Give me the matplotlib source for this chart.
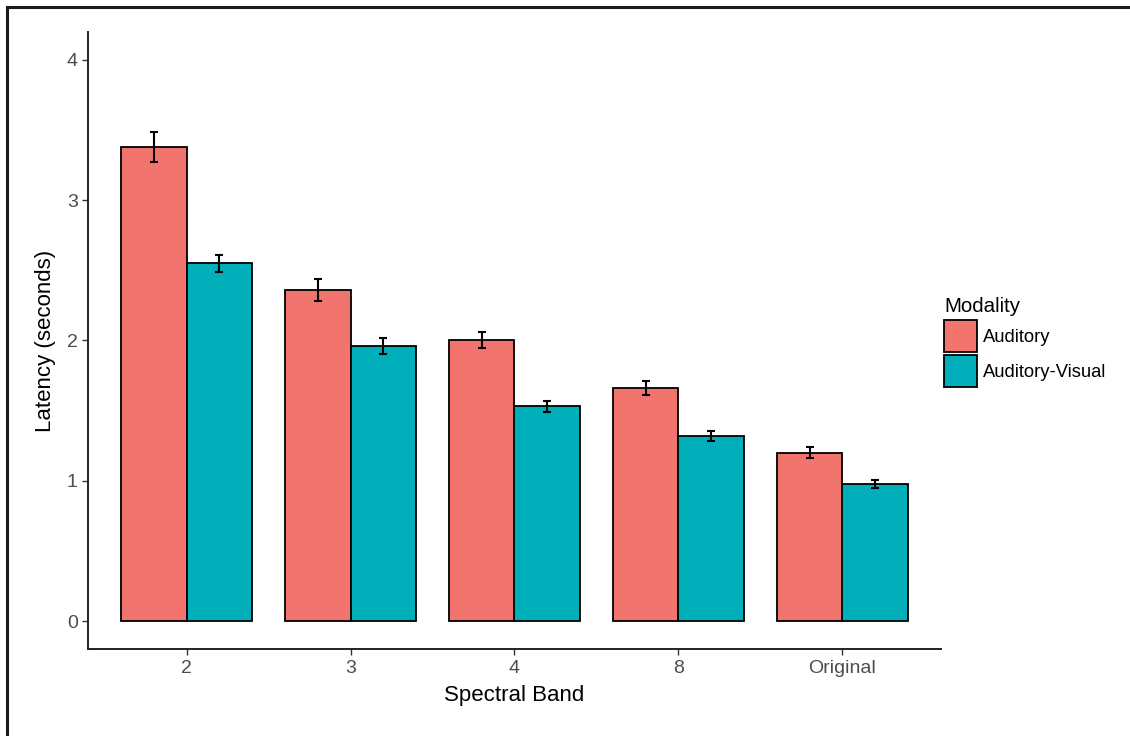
import matplotlib.pyplot as plt
import numpy as np

plt.rcParams['font.family'] = ['Liberation Sans', 'DejaVu Sans']

bands = ['2', '3', '4', '8', 'Original']
auditory = [3.38, 2.36, 2.00, 1.66, 1.20]
auditory_err = [0.107, 0.076, 0.057, 0.051, 0.040]
av = [2.55, 1.96, 1.53, 1.32, 0.98]
av_err = [0.062, 0.058, 0.042, 0.033, 0.028]

x = np.arange(len(bands))
w = 0.4

fig = plt.figure(figsize=(11.3, 7.36), dpi=100)
ax = fig.add_axes([0.0781, 0.1178, 0.7544, 0.8392])

ax.bar(x - w/2, auditory, w, color='#F1746F', edgecolor='black', linewidth=1.3,
       label='Auditory', zorder=2)
ax.bar(x + w/2, av, w, color='#00AFBA', edgecolor='black', linewidth=1.3,
       label='Auditory-Visual', zorder=2)
ax.errorbar(x - w/2, auditory, yerr=auditory_err, fmt='none', ecolor='black',
            elinewidth=1.5, capsize=3, capthick=1.5, zorder=3)
ax.errorbar(x + w/2, av, yerr=av_err, fmt='none', ecolor='black',
            elinewidth=1.5, capsize=3, capthick=1.5, zorder=3)

ax.set_xlim(-0.6, 4.6)
ax.set_ylim(-0.2, 4.2)
ax.set_xticks(x)
ax.set_xticklabels(bands)
ax.set_yticks([0, 1, 2, 3, 4])
ax.tick_params(labelsize=14, labelcolor='#4D4D4D', color='#333333', length=4, width=1)

for s in ['top', 'right']:
    ax.spines[s].set_visible(False)
for s in ['left', 'bottom']:
    ax.spines[s].set_linewidth(1.4)
    ax.spines[s].set_color('#222222')

ax.set_xlabel('Spectral Band', fontsize=16, labelpad=6)
ax.set_ylabel('Latency (seconds)', fontsize=16, labelpad=8)

leg = ax.legend(loc='center left', bbox_to_anchor=(0.985, 0.497), frameon=False,
                title='Modality', title_fontsize=14.8, fontsize=13.2,
                handlelength=1.8, handleheight=2.3, labelspacing=0.2,
                handletextpad=0.3, alignment='left')

# outer frame (top and left edges visible)
fig.add_artist(plt.Line2D([0.0062, 1], [0.9905, 0.9905], color='#1a1a1a', lw=2.2,
                          transform=fig.transFigure))
fig.add_artist(plt.Line2D([0.0062, 0.0062], [0, 0.9905], color='#1a1a1a', lw=2.2,
                          transform=fig.transFigure))

fig.savefig('out.png', dpi=100)
